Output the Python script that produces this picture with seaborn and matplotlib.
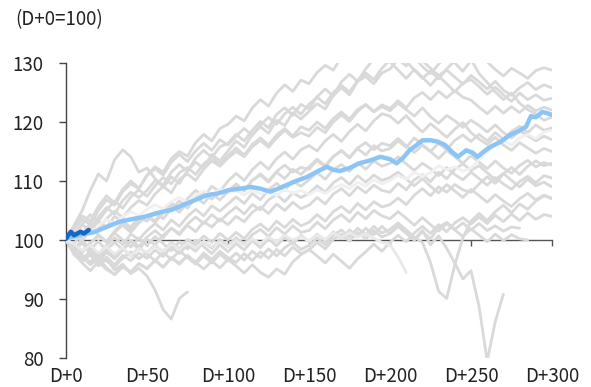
import matplotlib
matplotlib.use("Agg")
import matplotlib.pyplot as plt
import seaborn as sns

sns.set_style("white")
plt.rcParams['font.family'] = ['Noto Sans CJK KR', 'DejaVu Sans']

# 5일 간격 (D+0, D+5, ... D+300)
days = list(range(0, 301, 5))

# 과거 사례들 (회색)
g1 = [100, 101.8, 103.5, 102.6, 105, 106.8, 105.9, 108.2, 109.5, 108.7, 111,
      112.4, 111.5, 113.8, 115, 114.2, 116.5, 117.9, 116.8, 118.9, 119.6,
      121, 120.2, 122.4, 123.8, 122.7, 124.9, 126.3, 125.2, 127.1, 126.5,
      128.4, 129.6, 128.8, 131, 132.5, 131.4, 133, 134.2, 132.8, 131.9,
      133.5, 132.6, 131, 129.4, 128.2, 129.8, 131.2, 130, 128.6, 130.4,
      131.5, 130.2, 128.9, 127.8, 129.1, 128.3, 127.4, 128.7, 129.2, 128.8]
g2 = [100, 102.5, 105, 108.4, 111.2, 110, 113.6, 115.3, 114.1, 111.5, 112.2,
      110.4, 108.9, 110.7, 109.6, 111.8, 113.2, 112.1, 114.5, 113.4, 115.1,
      116.8, 115.7, 117.9, 119.2, 118.1, 120.3, 119.4, 121.6, 120.5, 121.8,
      123.1, 122.2, 124.5, 125.8, 124.6, 126.9, 127.7, 126.5, 128.3, 129,
      130.6, 129.5, 131.8, 130.4, 129.1, 127.9, 128.8, 127.6, 126.4, 127.9,
      126.8, 125.6, 126.9, 125.4, 124.5, 125.8, 126.7, 125.5, 126.3, 125.8]
g3 = [100, 100.8, 102.6, 101.7, 103.9, 105.5, 104.4, 106.7, 108.1, 107.2, 108.4,
      110.1, 109.3, 111.5, 112.8, 111.6, 113.9, 115.2, 114, 115.8, 116.4,
      117.9, 116.8, 118.6, 120.1, 119, 121.3, 122.4, 121.1, 123, 122.2,
      124.3, 125.6, 124.4, 126.8, 128.1, 126.9, 129, 130.7, 131.5, 130.2,
      128.8, 127.4, 128.9, 127.6, 126.2, 127.8, 126.5, 125.1, 126.6, 127.2,
      126, 124.7, 125.9, 124.6, 123.5, 124.9, 123.8, 124.6, 123.7, 124]
g4 = [100, 99.4, 101.2, 102.8, 101.9, 103.6, 104.9, 103.8, 105.5, 106.7, 105.9,
      107.8, 109.1, 108, 110.3, 111.2, 110.1, 112, 113.4, 112.5, 113.9,
      115, 114.1, 115.8, 116.9, 115.7, 117.3, 118.6, 117.4, 118.2, 117.6,
      119.1, 118.2, 120, 121.2, 120.1, 121.8, 122.9, 121.7, 122.6, 121.9,
      123.2, 122.1, 121, 122.4, 120.9, 119.8, 121.1, 120.2, 119.1, 120.3,
      119.4, 118.3, 119.5, 118.2, 117.3, 118.5, 117.7, 116.8, 117.6, 117]
g5 = [100, 98.7, 97.9, 99.4, 100.8, 99.7, 101.5, 102.9, 101.8, 103.2, 104.1,
      103.2, 105, 106.3, 105.2, 107, 108.4, 107.3, 109.1, 108.2, 110,
      111.3, 110.1, 111.9, 113.2, 112, 113.8, 114.9, 113.7, 115.3, 116,
      115.1, 116.8, 117.9, 116.7, 118.4, 119.6, 118.5, 120.2, 121.4, 121,
      119.8, 121.1, 119.6, 118.3, 119.7, 118.6, 117.4, 118.8, 119.9, 118.2,
      117.1, 116.2, 117.4, 116.1, 115.2, 116.5, 115.6, 114.7, 115.5, 115]
g6 = [100, 101, 99.8, 101.9, 103.1, 102.2, 104, 103.1, 102.2, 103.8, 103.2,
      104.7, 103.6, 105.3, 106.6, 105.4, 107.2, 108.1, 106.9, 108.5, 108,
      109.4, 108.3, 110.1, 111.2, 110, 111.6, 112.7, 111.5, 112.3, 112,
      113.5, 112.4, 114.1, 115.2, 114, 115.6, 116.5, 115.3, 116.4, 116,
      117.2, 116, 114.8, 116.1, 115, 113.8, 115.2, 114.1, 113, 114.3,
      113.2, 112.1, 113.4, 112.2, 111.3, 112.6, 113.5, 112.4, 113.1, 112.7]
g7 = [100, 98.6, 99.9, 98.5, 97.6, 99.1, 100.4, 99.2, 101, 100.1, 101.6,
      102.8, 101.7, 103.4, 102.3, 104, 105.2, 104.1, 105.8, 104.9, 106.1,
      107.3, 106.2, 107.9, 106.8, 108.5, 109.6, 108.4, 110, 109.1, 110.2,
      111.4, 110.3, 111.9, 112.8, 111.6, 113.1, 112, 113.4, 112.5, 113,
      114.1, 112.9, 111.8, 113, 112.1, 110.9, 112.3, 111.1, 110.2, 111.5,
      110.4, 109.3, 110.6, 109.5, 108.6, 109.9, 110.8, 109.7, 110.9, 110.5]
g8 = [100, 97.8, 96.7, 98.1, 96.9, 98.4, 99.6, 98.3, 100, 98.9, 100.5,
      101.6, 100.4, 102, 101.1, 102.7, 103.9, 102.8, 104.3, 103.2, 104.5,
      105.6, 104.4, 106, 105.1, 106.8, 107.7, 106.5, 108, 107.2, 107.9,
      109.2, 108.1, 109.7, 110.6, 109.4, 110.9, 109.8, 111, 110.1, 110.6,
      111.5, 110.3, 109.2, 110.4, 109.1, 108, 109.4, 108.3, 107.2, 108.6,
      107.5, 106.4, 107.7, 106.6, 105.7, 107, 107.9, 106.8, 107.6, 107.1]
g9 = [100, 98.2, 99.5, 97.6, 96.4, 97.9, 96.8, 98.3, 99.7, 98.4, 100.1,
      99.2, 100.8, 102, 100.9, 102.5, 101.4, 103.1, 102.2, 103.6, 102.6,
      104, 103.1, 104.7, 105.6, 104.5, 106.1, 105, 106.4, 105.3, 105.9,
      107.2, 106.1, 107.8, 108.7, 107.5, 109, 108, 109.3, 108.4, 108.1,
      109.6, 108.5, 110.2, 111.1, 109.9, 111.5, 110.4, 112, 112.9, 111.8,
      112.6, 111.4, 110.2, 111.3, 110.1, 109, 110.3, 109.2, 109.8, 109]
g10 = [100, 99, 97.5, 96.2, 97.6, 96.4, 95.5, 96.9, 98, 96.8, 97.9,
       99.1, 98, 99.6, 98.5, 100.1, 99.2, 100.7, 99.6, 101.1, 100,
       101.3, 100.2, 101.8, 102.7, 101.6, 103.2, 102.1, 103.5, 102.4, 103,
       104.3, 103.2, 104.8, 105.7, 104.6, 106.2, 105.1, 106.5, 105.6, 106,
       107.1, 106, 107.6, 108.7, 107.5, 109, 108.1, 109.4, 108.5, 108.1,
       109.5, 110.7, 109.6, 111.2, 112.3, 111.1, 112.5, 113.4, 112.6, 113]
g11 = [100, 97.5, 96.3, 97.8, 95.9, 97.1, 95.8, 97.4, 96.5, 97.8, 96.9,
       98.3, 97.2, 98.8, 97.7, 99.2, 98.1, 99.7, 98.6, 100.1, 99,
       100.4, 99.3, 100.9, 101.8, 100.6, 102.1, 101, 102.4, 101.3, 101.6,
       103, 101.9, 103.4, 104.3, 103.1, 104.7, 103.6, 105, 104.1, 103.6,
       104.8, 103.7, 102.5, 103.8, 102.6, 101.5, 102.8, 101.7, 100.6, 101.9,
       100.8, 99.7, 101, 99.9, 100.9, 100.2, 100]
g12 = [100, 98, 96.1, 94.8, 96.3, 95, 94.2, 95.6, 94.5, 96, 95.1,
       96.6, 95.4, 97, 95.9, 97.4, 96.2, 97.8, 96.7, 98.1, 97,
       96.2, 97.7, 96.5, 98, 96.9, 98.4, 97.3, 98.8, 97.7, 98.3,
       99.6, 98.5, 100.1, 101, 99.8, 101.3, 100.2, 101.6, 100.5, 101.1,
       102.3, 101.1, 100, 101.4, 100.2, 102.1, 103, 101.8, 102.9, 101.7,
       102.8, 101.6, 102.4, 101.5, 102.2, 102]
g13 = [100, 98.1, 96.4, 97.5, 95.6, 96.8, 94.9, 95.9, 94.3, 95.2, 93.9,
       91.5, 88.2, 86.6, 90.1, 91.2]
g14 = [100, 101.2, 99.6, 98.4, 99.8, 98.2, 97.1, 98.5, 97.3, 98.8, 97.6,
       96.5, 97.9, 96.7, 98.2, 97, 95.9, 97.3, 96.1, 97.6, 96.5,
       97.8, 96.6, 98.1, 97, 98.5, 97.3, 98.7, 99.6, 98.4, 99.1,
       100.3, 99.2, 100.8, 101.7, 100.5, 102, 100.9, 102.3, 101.2, 101.8,
       102.9, 101.7, 100.5, 99.6, 96.2, 91.3, 90.1, 95.8, 100.4, 103.2,
       104.5, 103.3, 104.8, 105.9, 104.6, 106.1, 105.2, 106.6, 107.5, 107]
g15 = [100, 101.5, 100.2, 102.1, 100.9, 99.7, 101.2, 100, 98.8, 100.3, 99.1,
       100.6, 99.4, 98.2, 99.7, 98.5, 100, 98.9, 97.7, 99.2, 98,
       99.4, 98.3, 99.9, 98.7, 100.2, 99, 100.5, 99.3, 100.8, 99.7,
       101, 99.8, 101.4, 100.2, 101.7, 100.5, 102, 100.9, 102.3, 101.1,
       102.5, 101.3, 100.1, 101.6, 99.2, 100.7, 98.6, 96.1, 93.4, 94.8,
       88.7, 79.5, 86.2, 90.8]
g16 = [100, 100.9, 102.7, 104.3, 103.2, 105.1, 106.6, 105.4, 107.3, 108.5, 107.4,
       109.2, 110.6, 109.5, 111.4, 112.3, 111.1, 112.9, 114, 112.8, 114.3,
       115.6, 114.4, 116.2, 117.3, 116.1, 117.8, 118.9, 117.6, 119.2, 118.6,
       120, 118.9, 120.6, 121.7, 120.5, 122.1, 123, 121.8, 122.9, 122.3,
       123.6, 122.4, 124.1, 125, 123.8, 125.2, 124.1, 125.3, 124.2, 123.7,
       122.5, 121.4, 122.7, 121.5, 122.6, 121.6, 122.8, 121.9, 122.5, 122]
g17 = [100, 102.2, 104.1, 103.2, 105.7, 107.5, 106.3, 108.6, 110, 108.8, 110.9,
       112.1, 111, 113.2, 114.5, 113.3, 115.1, 116.4, 115.2, 117, 116.1,
       117.6, 118.9, 117.7, 119.5, 120.8, 119.6, 121.4, 122.5, 121.3, 123,
       124.2, 123.1, 125, 126.2, 125.1, 127, 128.3, 127.2, 129.1, 130.5,
       131.6, 130.3, 128.8, 127.4, 128.6, 127.3, 129, 130.4, 131.7, 130.6,
       128.2, 126.7, 125.1, 123.8, 124.9, 123.2, 122.1, 121.4, 120.3, 120.8]
g18 = [100, 99.2, 98.1, 99.5, 100.7, 99.6, 101.3, 102.5, 101.3, 102.9, 104,
       103, 104.6, 105.8, 104.7, 106.3, 107.4, 106.2, 107.9, 106.8, 108.2,
       109.5, 108.4, 110.1, 111, 109.8, 111.5, 110.4, 112, 111.1, 112.4,
       113.7, 112.6, 114.2, 115.1, 113.9, 115.5, 114.4, 116, 115.1, 115.5,
       116.8, 115.7, 117.3, 116.1, 115, 116.4, 115.3, 116.9, 117.8, 116.7,
       117.9, 116.8, 118.2, 117.1, 118.4, 119.3, 118.2, 119.5, 118.6, 119]
g19 = [100, 98.6, 97.2, 95.8, 96.9, 95.3, 94.1, 95.4, 94.6, 96, 95.2,
       96.5, 95.4, 97, 96.1, 97.3, 96.2, 95.1, 96.4, 95.3, 96.7,
       95.6, 94.4, 95.8, 94.5, 93.7, 95.1, 94.2, 96.3, 97.5, 98.4,
       97.3, 96.1, 97.6, 96.4, 95.2, 96.8, 98, 99.3, 98.1, 99.6,
       100.8, 99.7, 101.2, 102.3, 101.1, 102.6, 101.4, 102.9, 103.8, 102.7,
       103.9, 102.8, 104.2, 103.1, 104.4, 103.3, 104.6, 103.5, 104.3, 104]
gray_lines = [g1, g2, g3, g4, g5, g6, g7, g8, g9, g10,
              g11, g12, g13, g14, g15, g16, g17, g18, g19]

# 옅은 사례
w1 = [100, 100.6, 101.8, 101.1, 102.4, 103.5, 102.7, 104, 104.8, 104.1, 105.2,
      106, 105.3, 106.5, 107.2, 106.4, 107.6, 108.3, 107.5, 108.7, 108.1,
      108.4, 107.6, 108.5, 107.8, 108.3, 107.5, 108.6, 107.9, 108.4, 107.7,
      108.5, 107.9, 108.8, 109.4, 108.7, 109.8, 109.1, 110.2, 109.5, 110.1,
      111, 110.3, 111.5, 110.8, 111.4, 112.6, 111.9, 112.4, 111.7, 112.2,
      113.6, 114.9, 116.1, 116.8, 116.1, 117.3, 117.9, 117.2, 118.3, 118.6]
w2 = [100, 99.3, 98.2, 99.1, 97.8, 98.9, 97.6, 98.7, 97.4, 98.6, 97.9,
      99, 98.1, 99.3, 98.4, 99.5, 98.6, 99.8, 98.9, 99.6, 98.8,
      99.9, 99.1, 100.2, 99.4, 100.5, 99.7, 100.8, 100, 100.6, 99.8,
      100.9, 100.1, 101.2, 100.4, 101.3, 100.5, 101.1, 100.3, 99.6, 99.2,
      97.1, 94.5]

# 평균 (하늘색)
avg_days = [0, 5, 10, 17, 25, 33, 40, 48, 58, 65, 72, 80, 87, 94, 101, 108, 114,
            120, 126, 131, 136, 142, 149, 155, 161, 165, 169, 175, 181, 188, 194,
            200, 204, 208, 212, 216, 220, 225, 229, 234, 238, 242, 247, 251, 254,
            258, 262, 268, 274, 279, 284, 287, 290, 294, 297, 300]
avg_vals = [100.3, 100.6, 101.0, 101.3, 102.2, 103.1, 103.5, 103.9, 104.7, 105.1,
            105.9, 106.8, 107.6, 107.9, 108.5, 108.7, 109.0, 108.7, 108.2, 108.7,
            109.3, 110.0, 110.7, 111.6, 112.4, 111.9, 111.7, 112.2, 113.0, 113.5,
            114.1, 113.7, 113.0, 113.9, 115.2, 116.0, 116.9, 116.9, 116.7, 116.1,
            115.0, 114.1, 115.2, 114.8, 114.1, 115.0, 115.8, 116.6, 117.8, 118.4,
            119.2, 121.0, 120.8, 121.7, 121.5, 121.2]

# 현재 (진한 파랑)
now_days = [0, 1, 3, 5, 7, 9, 11, 14]
now_vals = [100.2, 100.7, 101.4, 100.8, 101.1, 101.4, 101.1, 101.7]

xticks = [0, 50, 100, 150, 200, 250, 300]
xlabels = ["D+0", "D+50", "D+100", "D+150", "D+200", "D+250", "D+300"]
yticks = [80, 90, 100, 110, 120, 130]

fig = plt.figure(figsize=(5.91, 3.87), dpi=100)
ax = fig.add_axes([66 / 591, 1 - 358 / 387, 486 / 591, 295 / 387])

for g in gray_lines:
    sns.lineplot(x=days[:len(g)], y=g, color="#d9d9d9", lw=2.0, ax=ax, zorder=3)
sns.lineplot(x=days[:len(w2)], y=w2, color="#e9e9e9", lw=2.0, ax=ax, zorder=3)
sns.lineplot(x=days[:len(w1)], y=w1, color="#f0f0f0", lw=2.0, ax=ax, zorder=3)
sns.lineplot(x=avg_days, y=avg_vals, color="#8cc4f6", lw=3.2, ax=ax, zorder=4)
sns.lineplot(x=now_days, y=now_vals, color="#1467c2", lw=3.2, ax=ax, zorder=5)

ax.set_xlim(0, 300)
ax.set_ylim(80, 130)
ax.set_yticks(yticks)
ax.set_xticks(xticks)
ax.tick_params(axis="y", direction="out", length=5, width=1, color="#444444",
               pad=11, labelsize=13.5, labelcolor="#222222", left=True)
ax.tick_params(axis="x", direction="out", length=4, width=1, color="#555555",
               labelbottom=False, bottom=True)

for side in ["top", "right"]:
    ax.spines[side].set_visible(False)
ax.spines["left"].set_color("#444444")
ax.spines["left"].set_linewidth(1)
ax.spines["bottom"].set_position(("data", 100))
ax.spines["bottom"].set_color("#555555")
ax.spines["bottom"].set_linewidth(1)
ax.spines["bottom"].set_zorder(1)

secax = ax.secondary_xaxis(0)
secax.set_xticks(xticks, xlabels)
secax.tick_params(length=0, pad=6, labelsize=13.5, labelcolor="#222222")
secax.spines["bottom"].set_visible(False)

fig.text(15 / 591, 1 - 20 / 387, "(D+0=100)", fontsize=13.5, color="#222222",
         ha="left", va="center")

fig.savefig("out.png", dpi=100)
